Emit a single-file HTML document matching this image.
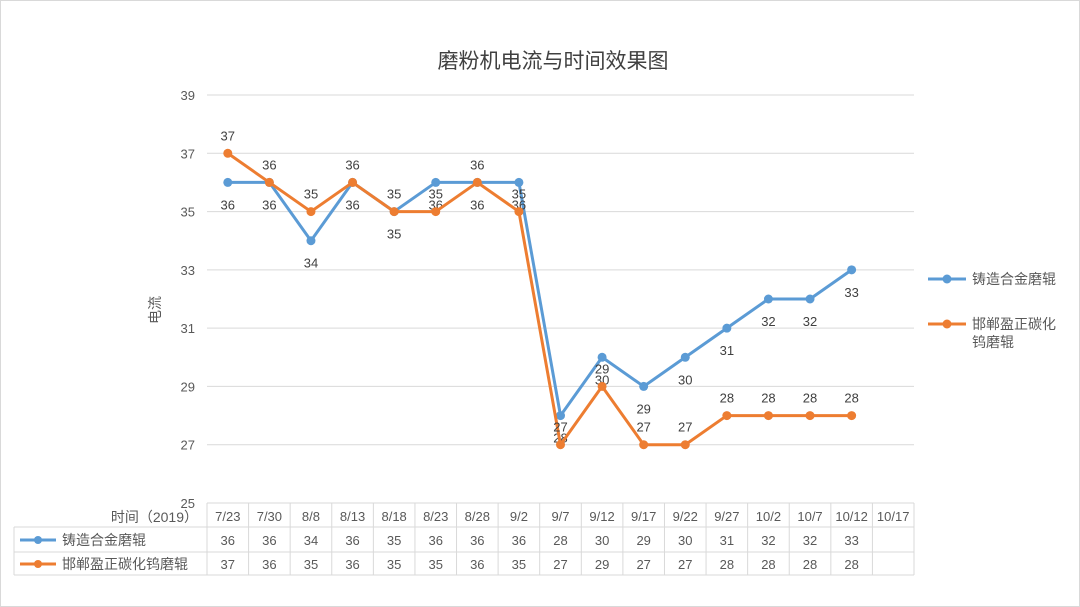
<!DOCTYPE html>
<html><head><meta charset="utf-8"><style>
body{margin:0;background:#fff}
svg{display:block;font-family:"Liberation Sans","Noto Sans CJK SC",sans-serif}
</style></head><body>
<svg id="c" width="1080" height="607">
<rect x="0.5" y="0.5" width="1079" height="606" fill="#fff" stroke="#d9d9d9"/>
<text x="553" y="68" font-size="21" text-anchor="middle" fill="#404040">磨粉机电流与时间效果图</text>
<text transform="translate(160,310) rotate(-90)" font-size="14" text-anchor="middle" fill="#595959">电流</text>
<g id="grid"></g><g id="table"></g><g id="series"></g>
<g>
<line x1="928" y1="279" x2="966" y2="279" stroke="#5b9bd5" stroke-width="3"/><circle cx="947" cy="279" r="4.5" fill="#5b9bd5"/>
<text x="972" y="284" font-size="14" fill="#595959">铸造合金磨辊</text>
<line x1="928" y1="324" x2="966" y2="324" stroke="#ed7d31" stroke-width="3"/><circle cx="947" cy="324" r="4.5" fill="#ed7d31"/>
<text x="972" y="329" font-size="14" fill="#595959">邯郸盈正碳化</text>
<text x="972" y="347" font-size="14" fill="#595959">钨磨辊</text>
</g>
</svg>
<script>
const categories=["7/23","7/30","8/8","8/13","8/18","8/23","8/28","9/2","9/7","9/12","9/17","9/22","9/27","10/2","10/7","10/12","10/17"];
const seriesBlue=[36,36,34,36,35,36,36,36,28,30,29,30,31,32,32,33];
const seriesOrange=[37,36,35,36,35,35,36,35,27,29,27,27,28,28,28,28];
const yTicks=[25,27,29,31,33,35,37,39];
const NS="http://www.w3.org/2000/svg";
const X0=207,X1=914,Y0=503,Y1=95,YMIN=25,YMAX=39;
const cw=(X1-X0)/categories.length;
const xs=i=>X0+cw*(i+0.5);
const ys=v=>Y0-(v-YMIN)/(YMAX-YMIN)*(Y0-Y1);
function mk(tag,attrs,parent,txt){const e=document.createElementNS(NS,tag);for(const k in attrs)e.setAttribute(k,attrs[k]);if(txt!==undefined)e.textContent=txt;parent.appendChild(e);return e;}
const grid=document.getElementById('grid'),table=document.getElementById('table'),ser=document.getElementById('series');
yTicks.forEach(t=>{
 const l=mk('line',{x1:X0,x2:X1,y1:ys(t),y2:ys(t),stroke:'#d9d9d9'},grid);
 
 
 const tx=mk('text',{x:195,y:ys(t)+5,'font-size':13,'text-anchor':'end',fill:'#595959'},grid,t);
 
 
});
// table
const rows=[503,527,552,575];
mk('line',{x1:X0,x2:X1,y1:rows[0],y2:rows[0],stroke:'#d9d9d9'},table);
[1,2,3].forEach(r=>mk('line',{x1:14,x2:X1,y1:rows[r],y2:rows[r],stroke:'#d9d9d9'},table));
mk('line',{x1:14,x2:14,y1:rows[1],y2:rows[3],stroke:'#d9d9d9'},table);
for(let i=0;i<=categories.length;i++){mk('line',{x1:X0+cw*i,x2:X0+cw*i,y1:rows[0],y2:rows[3],stroke:'#d9d9d9'},table);}
const ht=mk('text',{x:198,y:522,'font-size':14,'text-anchor':'end',fill:'#595959'},table,'时间（2019）');


categories.forEach((c,i)=>{
 const t=mk('text',{x:xs(i),y:521,'font-size':13,'text-anchor':'middle',fill:'#595959'},table,c);
 
 
});
function tableRow(vals,y,color,name){
 mk('line',{x1:20,x2:56,y1:y-5,y2:y-5,stroke:color,'stroke-width':3},table);
 mk('circle',{cx:38,cy:y-5,r:4,fill:color},table);
 mk('text',{x:62,y:y,'font-size':14,fill:'#595959'},table,name);
 vals.forEach((v,i)=>{const t=mk('text',{x:xs(i),y:y,'font-size':13,'text-anchor':'middle',fill:'#595959'},table,v);
  
  });
}
tableRow(seriesBlue,545,'#5b9bd5','铸造合金磨辊');
tableRow(seriesOrange,569,'#ed7d31','邯郸盈正碳化钨磨辊');
function drawSeries(vals,color,name,dy){
 const p=mk('polyline',{points:vals.map((v,i)=>xs(i)+','+ys(v)).join(' '),fill:'none',stroke:color,'stroke-width':3,'stroke-linejoin':'round'},ser);
 
 
 vals.forEach((v,i)=>{
  const c=mk('circle',{cx:xs(i),cy:ys(v),r:4.5,fill:color},ser);
  
  
  const t=mk('text',{x:xs(i),y:ys(v)+dy,'font-size':13,'text-anchor':'middle',fill:'#404040'},ser,v);
  
  
 });
}
drawSeries(seriesBlue,'#5b9bd5','blue-series',27);
drawSeries(seriesOrange,'#ed7d31','orange-series',-13);
</script>
</body></html>
